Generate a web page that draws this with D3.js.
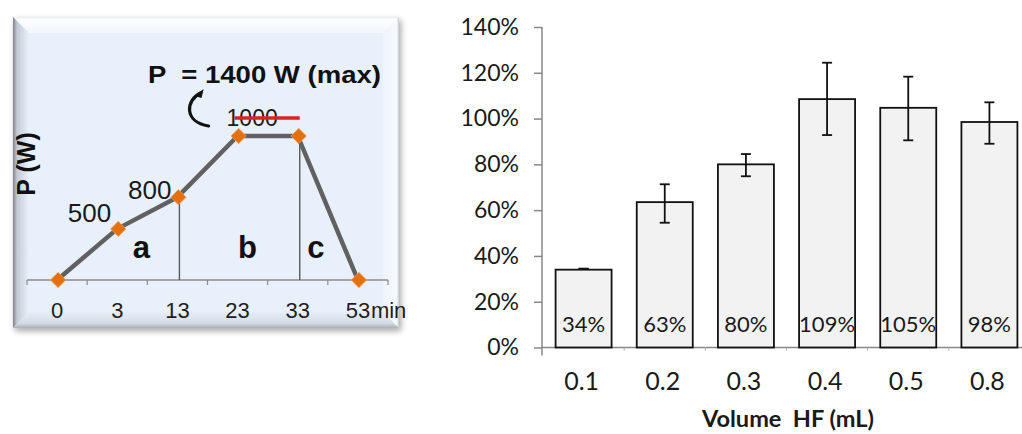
<!DOCTYPE html>
<html><head><meta charset="utf-8">
<script src="https://cdn.jsdelivr.net/npm/d3@7"></script>
<style>body{margin:0;background:#fff}svg{display:block}</style>
</head><body><svg id="c" width="1022" height="434"></svg>
<script>
// ---------- Left panel: microwave heating program ----------
const timeLabels = ["0", "3", "13", "23", "33", "53"];
const timeUnit = "min";
const powerLabels = ["", "500", "800", "1000", "", ""];
const levelPlotted = [0, 355, 575, 1000, 1000, 0];   // schematic heights as drawn
const stageLabels = ["a", "b", "c"];
const maxPowerText = "P  = 1400 W (max)";
const leftYTitle = "P (W)";

// ---------- Right panel: recovery vs HF volume ----------
const volumes = ["0.1", "0.2", "0.3", "0.4", "0.5", "0.8"];
const recovery = [0.34, 0.635, 0.80, 1.085, 1.047, 0.985];
const recoveryLabels = ["34%", "63%", "80%", "109%", "105%", "98%"];
const errHigh = [0.344, 0.713, 0.845, 1.244, 1.183, 1.071];
const errLow = [0.344, 0.545, 0.748, 0.928, 0.905, 0.890];
const yTicks = [0, 0.2, 0.4, 0.6, 0.8, 1.0, 1.2, 1.4];
const xTitle = "Volume  HF (mL)";

const svg = d3.select("#c");
const defs = svg.append("defs");

// ===== Left panel =====
const L = svg.append("g");
const bx = 13, by = 17, bw = 386, bh = 311, bev = 16;
const sh = defs.append("filter").attr("id", "shadow").attr("x", "-10%").attr("y", "-10%").attr("width", "130%").attr("height", "130%");
sh.append("feGaussianBlur").attr("in", "SourceAlpha").attr("stdDeviation", 3);
sh.append("feOffset").attr("dx", 2).attr("dy", 3).attr("result", "b");
sh.append("feComponentTransfer").append("feFuncA").attr("type", "linear").attr("slope", 0.35);
const mg = sh.append("feMerge"); mg.append("feMergeNode"); mg.append("feMergeNode").attr("in", "SourceGraphic");

const gl = defs.append("linearGradient").attr("id", "gLeft").attr("x1", 0).attr("x2", 1).attr("y1", 0).attr("y2", 0);
gl.append("stop").attr("offset", 0).attr("stop-color", "#7d838b");
gl.append("stop").attr("offset", 0.25).attr("stop-color", "#c3cad3");
gl.append("stop").attr("offset", 1).attr("stop-color", "#eaf1fa");
const gb = defs.append("linearGradient").attr("id", "gBot").attr("x1", 0).attr("x2", 0).attr("y1", 0).attr("y2", 1);
gb.append("stop").attr("offset", 0).attr("stop-color", "#e6eef8");
gb.append("stop").attr("offset", 0.7).attr("stop-color", "#d3dbe5");
gb.append("stop").attr("offset", 1).attr("stop-color", "#a9b0b8");
const gt = defs.append("linearGradient").attr("id", "gTop").attr("x1", 0).attr("x2", 0).attr("y1", 0).attr("y2", 1);
gt.append("stop").attr("offset", 0).attr("stop-color", "#e9edf2");
gt.append("stop").attr("offset", 0.15).attr("stop-color", "#fdfeff");
gt.append("stop").attr("offset", 1).attr("stop-color", "#f1f6fc");
const gr = defs.append("linearGradient").attr("id", "gRight").attr("x1", 0).attr("x2", 1).attr("y1", 0).attr("y2", 0);
gr.append("stop").attr("offset", 0).attr("stop-color", "#eef4fb");
gr.append("stop").attr("offset", 0.85).attr("stop-color", "#f6f9fd");
gr.append("stop").attr("offset", 1).attr("stop-color", "#c6ccd3");

L.append("rect").attr("x", bx).attr("y", by).attr("width", bw).attr("height", bh)
  .attr("fill", "#eaf2fb").attr("filter", "url(#shadow)");
const x0 = bx, y0 = by, x1 = bx + bw, y1 = by + bh;
L.append("polygon").attr("points", [[x0,y0],[x1,y0],[x1-bev,y0+bev],[x0+bev,y0+bev]].join(" ")).attr("fill", "url(#gTop)");
L.append("polygon").attr("points", [[x0,y0],[x0+bev,y0+bev],[x0+bev,y1-bev],[x0,y1]].join(" ")).attr("fill", "url(#gLeft)");
L.append("polygon").attr("points", [[x1,y0],[x1,y1],[x1-bev,y1-bev],[x1-bev,y0+bev]].join(" ")).attr("fill", "url(#gRight)");
L.append("polygon").attr("points", [[x0,y1],[x0+bev,y1-bev],[x1-bev,y1-bev],[x1,y1]].join(" ")).attr("fill", "url(#gBot)");
L.append("rect").attr("x", x0 + bev).attr("y", y0 + bev).attr("width", bw - 2 * bev).attr("height", bh - 2 * bev).attr("fill", "#e8f0fb");

const lx = d3.scaleBand().domain(timeLabels).range([27, 388]);
const ly = d3.scaleLinear().domain([0, 1000]).range([280, 136]);
const cx = d => lx(d) + lx.bandwidth() / 2;
const LF = "Liberation Sans, Arial, sans-serif";

// axis
const lAxis = L.append("g").attr("transform", "translate(0,280)")
  .call(d3.axisBottom(lx).tickSize(0).tickPadding(0).tickFormat(""));
lAxis.select(".domain").remove();
L.append("line").attr("x1", 27).attr("x2", 388).attr("y1", 280).attr("y2", 280).attr("stroke", "#8c8c8c").attr("stroke-width", 1.5);
const bounds = timeLabels.map(d => lx(d)).concat([lx(timeLabels[timeLabels.length - 1]) + lx.bandwidth()]);
L.selectAll(".ltick").data(bounds).join("line")
  .attr("x1", d => d).attr("x2", d => d).attr("y1", 280).attr("y2", 285)
  .attr("stroke", "#8c8c8c").attr("stroke-width", 1.2);
L.selectAll(".tl").data(timeLabels).join("text")
  .attr("x", d => cx(d)).attr("y", 318).attr("text-anchor", "middle")
  .attr("font-family", LF).attr("font-size", 22).attr("fill", "#1e1e1e")
  .text(d => d);
L.append("text").attr("x", cx(timeLabels[timeLabels.length - 1]) + 13).attr("y", 318)
  .attr("font-family", LF).attr("font-size", 22).attr("fill", "#1e1e1e")
  .text(timeUnit);

const pts = timeLabels.map((t, i) => [cx(t), ly(levelPlotted[i])]);

// vertical stage separators (at 13 and 33 min points)
[2, 4].forEach(i => {
  L.append("line").attr("x1", pts[i][0] + 2).attr("x2", pts[i][0] + 2)
    .attr("y1", pts[i][1] + 4).attr("y2", 280).attr("stroke", "#5a5a5a").attr("stroke-width", 1.4);
});

L.append("path").attr("d", d3.line()(pts)).attr("fill", "none")
  .attr("stroke", "#616161").attr("stroke-width", 4.5).attr("stroke-linejoin", "round");
L.selectAll(".mk").data(pts).join("path")
  .attr("transform", d => `translate(${d[0] + 1},${d[1]})`)
  .attr("d", d3.symbol(d3.symbolDiamond2, 150))
  .attr("fill", "#e4700e").attr("stroke", "#f2a262").attr("stroke-width", 0.8);

// value labels
const labOff = [null, [-6, -7], [-6, 2], null, null, null];
pts.forEach((p, i) => {
  if (!powerLabels[i] || !labOff[i]) return;
  L.append("text").attr("x", p[0] + labOff[i][0]).attr("y", p[1] + labOff[i][1])
    .attr("text-anchor", "end").attr("font-family", LF).attr("font-size", 26).attr("fill", "#1a1a1a")
    .text(powerLabels[i]);
});
// struck-out 1000
L.append("text").attr("x", pts[3][0] - 11).attr("y", pts[3][1] - 10)
  .attr("font-family", LF).attr("font-size", 23).attr("fill", "#1a1a1a").text(powerLabels[3]);
L.append("line").attr("x1", pts[3][0] - 3).attr("x2", pts[4][0] + 2)
  .attr("y1", pts[3][1] - 18).attr("y2", pts[3][1] - 18).attr("stroke", "#d7261e").attr("stroke-width", 3.4);
// curved arrow
L.append("path").attr("d", `M ${pts[3][0]-37} ${pts[3][1]-43} C ${pts[3][0]-52} ${pts[3][1]-36}, ${pts[3][0]-54} ${pts[3][1]-14}, ${pts[3][0]-29} ${pts[3][1]-10}`)
  .attr("fill", "none").attr("stroke", "#111").attr("stroke-width", 3.2).attr("stroke-linecap", "round");
L.append("path").attr("d", `M ${pts[3][0]-43} ${pts[3][1]-40} L ${pts[3][0]-34} ${pts[3][1]-47} L ${pts[3][0]-36} ${pts[3][1]-38} Z`)
  .attr("fill", "#111");

L.append("text").attr("x", 148).attr("y", 83).attr("textLength", 233).attr("lengthAdjust", "spacingAndGlyphs")
  .attr("font-family", LF).attr("font-weight", "bold").attr("font-size", 23).attr("fill", "#111")
  .style("white-space", "pre").text(maxPowerText);
L.append("text").attr("transform", "translate(35,164) rotate(-90)").attr("text-anchor", "middle")
  .attr("font-family", LF).attr("font-weight", "bold").attr("font-size", 25).attr("fill", "#111")
  .text(leftYTitle);

// stage letters between separators
const stageX = [(pts[1][0] + pts[2][0]) / 2 - 6, (pts[2][0] + pts[4][0]) / 2 + 10, (pts[4][0] + pts[5][0]) / 2 - 12];
stageLabels.forEach((s, i) => {
  L.append("text").attr("x", stageX[i]).attr("y", 258).attr("text-anchor", "middle")
    .attr("font-family", LF).attr("font-weight", "bold").attr("font-size", 31).attr("fill", "#111").text(s);
});

// ===== Right panel =====
const R = svg.append("g");
const RF = "Lato, Carlito, Calibri, sans-serif";
const x = d3.scaleBand().domain(volumes).range([543, 1030]).paddingInner(0.31).paddingOuter(0.155);
const y = d3.scaleLinear().domain([0, 1.4]).range([347.5, 27]);

const yAx = R.append("g").attr("transform", "translate(542,0)")
  .call(d3.axisLeft(y).tickValues(yTicks).tickFormat(d3.format(".0%")).tickSize(8).tickPadding(15));
yAx.select(".domain").remove();
yAx.selectAll(".tick line").attr("stroke", "#888").attr("stroke-width", 1.5);
yAx.selectAll(".tick text").attr("font-family", RF).attr("font-size", 23).attr("fill", "#1a1a1a");
R.append("line").attr("x1", 542).attr("x2", 542).attr("y1", y(1.4)).attr("y2", y(0) + 8).attr("stroke", "#888").attr("stroke-width", 1.5);
R.append("line").attr("x1", 542).attr("x2", 1022).attr("y1", y(0)).attr("y2", y(0)).attr("stroke", "#888").attr("stroke-width", 1.5);
R.selectAll(".xt").data(volumes.slice(1)).join("line")
  .attr("x1", d => x(d) - x.step() * 0.155).attr("x2", d => x(d) - x.step() * 0.155)
  .attr("y1", y(0)).attr("y2", y(0) + 3).attr("stroke", "#aaa").attr("stroke-width", 1);

R.selectAll(".bar").data(volumes).join("rect")
  .attr("x", d => x(d)).attr("width", x.bandwidth())
  .attr("y", (d, i) => y(recovery[i])).attr("height", (d, i) => y(0) - y(recovery[i]))
  .attr("fill", "#f2f2f2").attr("stroke", "#111").attr("stroke-width", 1.8);

const bc = d => x(d) + x.bandwidth() / 2;
volumes.forEach((d, i) => {
  const g = R.append("g").attr("stroke", "#111").attr("stroke-width", 1.8);
  g.append("line").attr("x1", bc(d)).attr("x2", bc(d)).attr("y1", y(errHigh[i])).attr("y2", y(errLow[i]));
  [errHigh[i], errLow[i]].forEach(v => g.append("line").attr("x1", bc(d) - 5).attr("x2", bc(d) + 5).attr("y1", y(v)).attr("y2", y(v)));
});

R.selectAll(".bl").data(volumes).join("text")
  .attr("x", d => bc(d)).attr("y", 332).attr("text-anchor", "middle")
  .attr("font-family", RF).attr("font-size", 22).attr("fill", "#1a1a1a")
  .text((d, i) => recoveryLabels[i]);

R.selectAll(".xl").data(volumes).join("text")
  .attr("x", d => bc(d) - 2).attr("y", 390).attr("text-anchor", "middle")
  .attr("font-family", RF).attr("font-size", 25).attr("fill", "#1a1a1a").text(d => d);

R.append("text").attr("x", 788).attr("y", 427).attr("text-anchor", "middle")
  .attr("textLength", 172).attr("lengthAdjust", "spacingAndGlyphs")
  .attr("font-family", RF).attr("font-weight", "bold").attr("font-size", 22).attr("fill", "#1a1a1a")
  .style("white-space", "pre").text(xTitle);
</script></body></html>
